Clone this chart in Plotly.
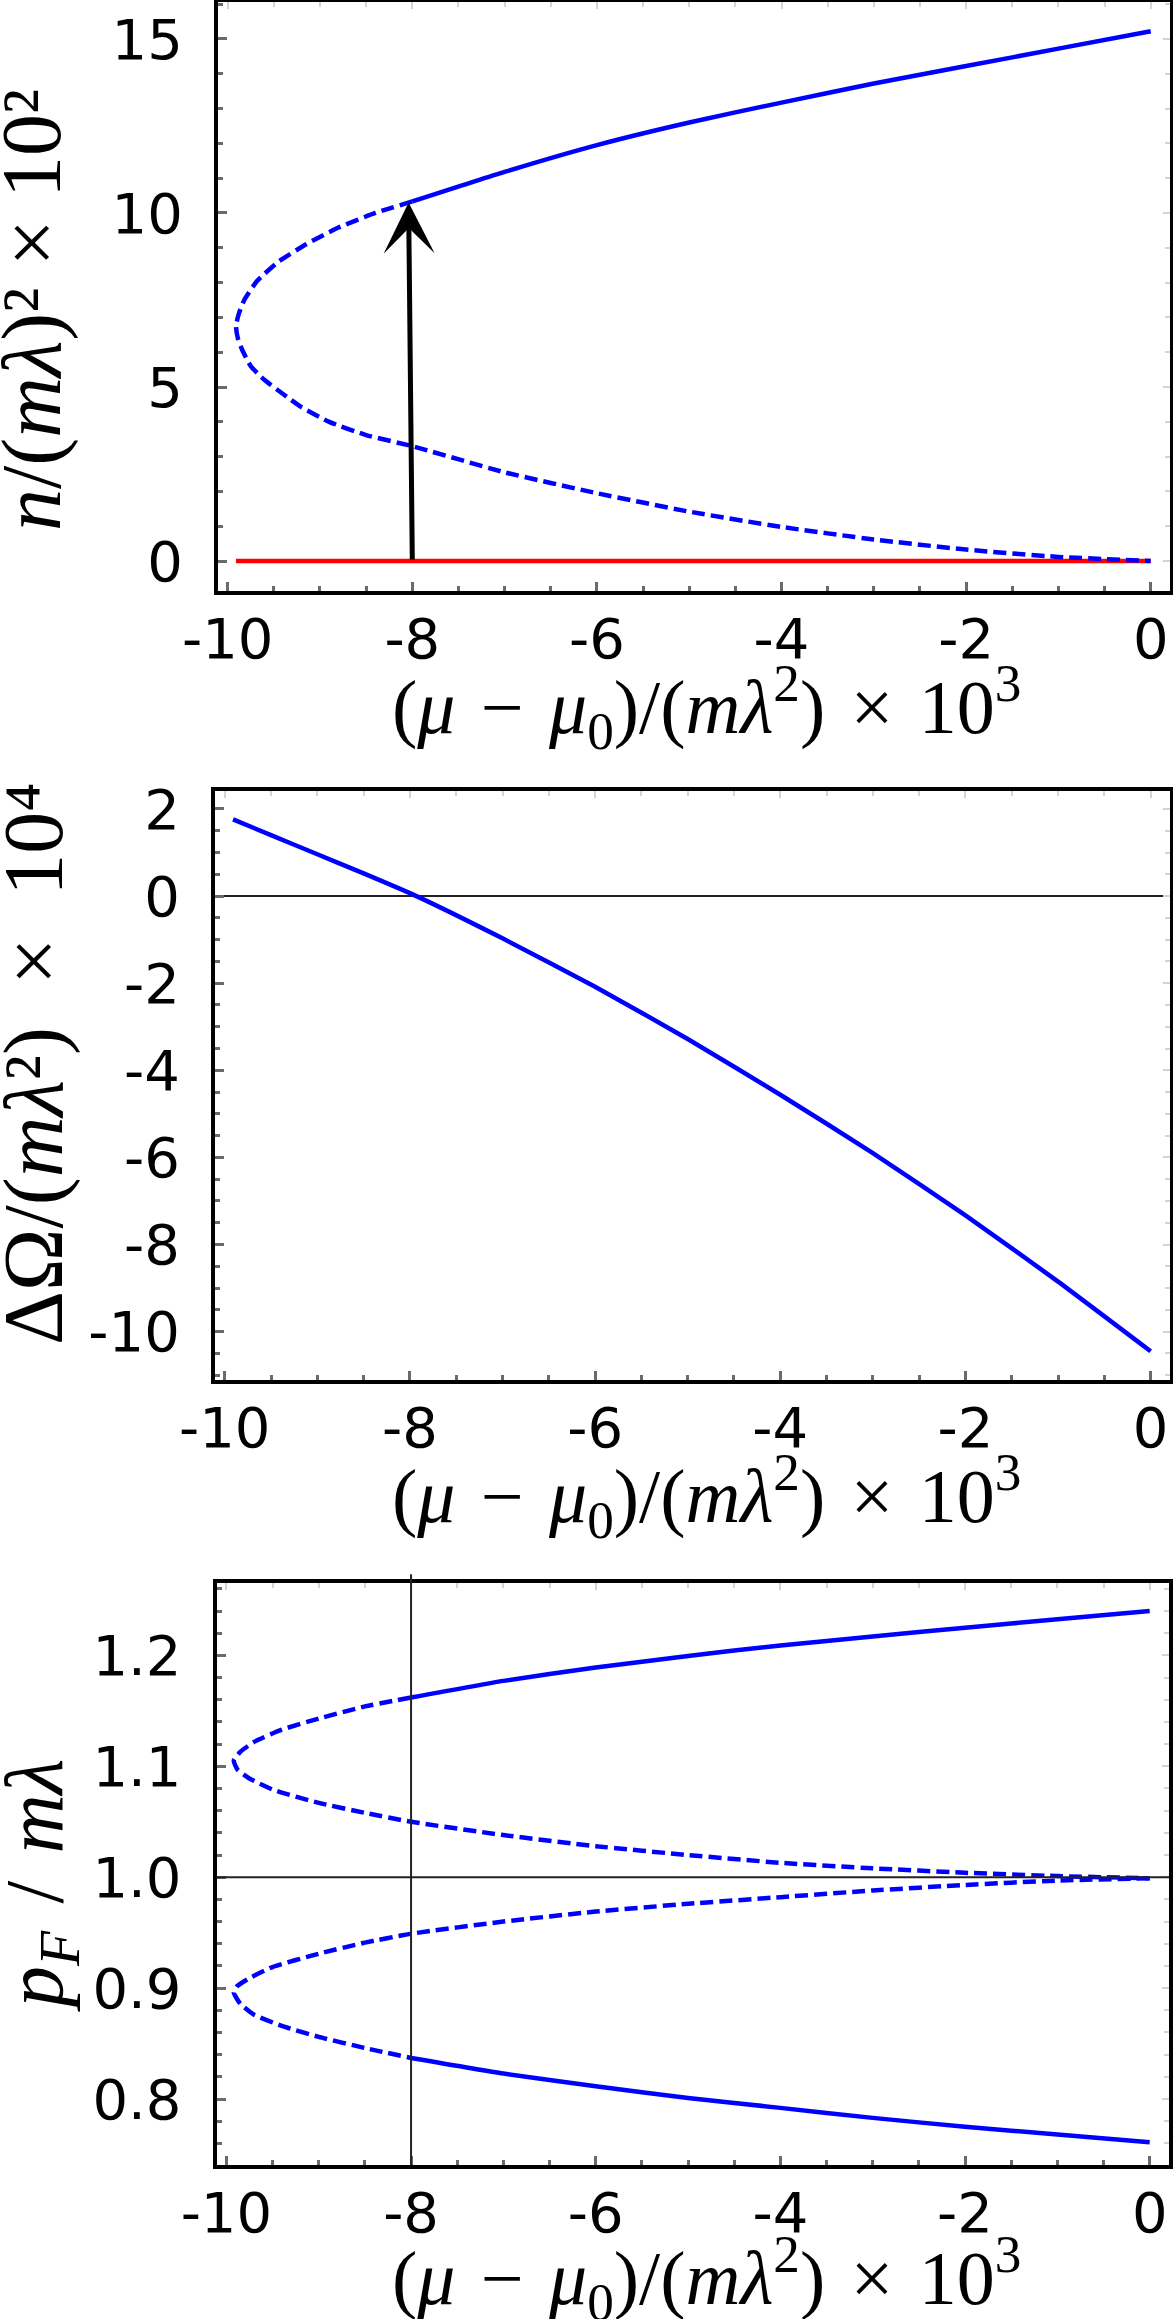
import plotly.graph_objects as go

W, H = 1173, 2319

# ---------------- data ----------------
# Panel 1: n/(m lambda)^2 x 10^2 vs (mu-mu0)/(m lambda^2) x 10^3
n_solid_x = [-8.0, -7.0, -6.0, -5.0, -4.0, -3.0, -2.0, -1.0, 0.0]
n_solid_y = [10.33, 11.18, 11.95, 12.6, 13.17, 13.72, 14.22, 14.72, 15.22]
n_dash_x = [-8.0, -8.4, -8.8, -9.15, -9.45, -9.68, -9.82, -9.88, -9.91, -9.89, -9.84,
            -9.75, -9.6, -9.4, -9.2, -8.9, -8.5, -8.0, -7.0, -6.0, -5.0, -4.0, -3.0,
            -2.0, -1.0, 0.0]
n_dash_y = [10.33, 10.0, 9.58, 9.1, 8.6, 8.05, 7.5, 7.1, 6.75, 6.4, 6.05,
            5.6, 5.2, 4.8, 4.42, 4.0, 3.62, 3.3, 2.55, 1.95, 1.42, 0.98, 0.62,
            0.33, 0.12, 0.0]
n_zero_x = [-9.91, 0.0]
n_zero_y = [0.0, 0.0]
arrow_base = (-8.0, 0.0)
arrow_tip = (-8.04, 10.3)

# Panel 2: Delta Omega/(m lambda^2) x 10^4
om_x = [-9.91, -9.5, -9.0, -8.5, -7.93, -7.0, -6.0, -5.0, -4.0, -3.0, -2.0, -1.0, 0.0]
om_y = [1.76, 1.4, 0.96, 0.52, 0.0, -0.97, -2.08, -3.28, -4.56, -5.9, -7.33, -8.85, -10.45]

# Panel 3: p_F/m lambda
pf_up_solid_x = [-8.0, -7.0, -6.0, -5.0, -4.0, -3.0, -2.0, -1.0, 0.0]
pf_up_solid_y = [1.162, 1.177, 1.189, 1.1995, 1.209, 1.217, 1.225, 1.2325, 1.240]
pf_lo_solid_x = [-8.0, -7.0, -6.0, -5.0, -4.0, -3.0, -2.0, -1.0, 0.0]
pf_lo_solid_y = [0.837, 0.823, 0.8115, 0.801, 0.792, 0.783, 0.775, 0.768, 0.761]
pf_up_dash_x = [-8.0, -8.5, -9.0, -9.4, -9.7, -9.85, -9.92, -9.88, -9.75, -9.5, -9.0,
                -8.5, -8.0, -7.0, -6.0, -5.0, -4.0, -3.0, -2.0, -1.0, 0.0]
pf_up_dash_y = [1.162, 1.154, 1.143, 1.133, 1.122, 1.113, 1.105, 1.097, 1.089, 1.079, 1.067,
                1.058, 1.050, 1.038, 1.028, 1.020, 1.013, 1.008, 1.004, 1.001, 0.999]
pf_lo_dash_x = [0.0, -1.0, -2.0, -3.0, -4.0, -5.0, -6.0, -7.0, -8.0, -8.5, -9.0, -9.5,
                -9.75, -9.88, -9.92, -9.85, -9.7, -9.4, -9.0, -8.5, -8.0]
pf_lo_dash_y = [0.999, 0.997, 0.993, 0.988, 0.982, 0.976, 0.969, 0.960, 0.949, 0.941, 0.931, 0.919,
                0.909, 0.902, 0.896, 0.886, 0.876, 0.866, 0.856, 0.846, 0.837]
pf_ref_y = 1.0
pf_ref_x = -8.0

# ticks
x_tickvals = [-10, -8, -6, -4, -2, 0]
x_ticktext = ["-10", "-8", "-6", "-4", "-2", "0"]
y1_tickvals = [0, 5, 10, 15]
y1_ticktext = ["0", "5", "10", "15"]
y2_tickvals = [-10, -8, -6, -4, -2, 0, 2]
y2_ticktext = ["-10", "-8", "-6", "-4", "-2", "0", "2"]
y3_tickvals = [0.8, 0.9, 1.0, 1.1, 1.2]
y3_ticktext = ["0.8", "0.9", "1.0", "1.1", "1.2"]

SP = "\u2004"
EN = "\u2002"
xtitle = ("(<i>μ</i>" + SP + "−" + SP + "<i>μ</i><sub>0</sub>)/(<i>mλ</i><sup>2</sup>)"
          + SP + "×" + SP + "10<sup>3</sup>")
ytitle1 = "<i>n</i>/(<i>mλ</i>)² × 10²"
ytitle2 = "ΔΩ/(<i>mλ</i>²)" + EN + "×" + EN + "10⁴"
ytitle3 = "<i>p</i><sub><i>F</i></sub>" + SP + "/" + SP + "<i>mλ</i>"

# ---------------- geometry (pixels) ----------------
panels = [
    dict(l=218, r=1170, t=2, b=591, yr=[-0.86, 16.06]),
    dict(l=215, r=1170, t=790.7, b=1380, yr=[-11.11, 2.42]),
    dict(l=216.7, r=1169, t=1583.3, b=2165, yr=[0.7405, 1.265]),
]
XR = [-10.105, 0.209]

BLUE = "#0000ff"
TICKC = "#6a6a6a"
FAINT = "#d4d4d4"
TICKFONT = dict(family="DejaVu Sans", size=56, color="black")
TITLEFONT = "Liberation Serif"

fig = go.Figure()

def line(x, y, ax, dash=None, color=BLUE, width=4.5):
    fig.add_trace(go.Scatter(
        x=x, y=y, mode="lines", xaxis="x" + ax, yaxis="y" + ax,
        line=dict(color=color, width=width, dash=dash, shape="spline", smoothing=0.5),
        hoverinfo="skip", showlegend=False))

DASH = "13px,6px"
# panel 1
line(n_zero_x, n_zero_y, "", color="#ff0000")
line(n_dash_x, n_dash_y, "", dash=DASH)
line(n_solid_x, n_solid_y, "")
# panel 2
line(om_x, om_y, "2")
# panel 3
line(pf_up_dash_x, pf_up_dash_y, "3", dash=DASH)
line(pf_lo_dash_x, pf_lo_dash_y, "3", dash=DASH)
line(pf_up_solid_x, pf_up_solid_y, "3")
line(pf_lo_solid_x, pf_lo_solid_y, "3")

# dummy traces for overlay (faint mirrored tick) axes
for k in range(3):
    fig.add_trace(go.Scatter(x=[None], y=[None], xaxis="x%d" % (k + 4), yaxis="y%d" % (k + 4),
                             showlegend=False, hoverinfo="skip"))

layout = dict(width=W, height=H, margin=dict(l=0, r=0, t=0, b=0),
              paper_bgcolor="white", plot_bgcolor="white", showlegend=False)

ytv = [(y1_tickvals, y1_ticktext, 1.0), (y2_tickvals, y2_ticktext, 0.5), (y3_tickvals, y3_ticktext, 0.02)]

for i, p in enumerate(panels):
    sfx = "" if i == 0 else str(i + 1)
    xd = [p["l"] / W, p["r"] / W]
    yd = [1 - p["b"] / H, 1 - p["t"] / H]
    tv, tt, mdt = ytv[i]
    layout["xaxis" + sfx] = dict(
        domain=xd, range=XR, anchor="y" + sfx, showgrid=False, zeroline=False,
        showline=True, linewidth=4, linecolor="black", mirror=True,
        ticks="inside", ticklen=9, tickwidth=3, tickcolor=TICKC,
        tickvals=x_tickvals, ticktext=x_ticktext, tickfont=TICKFONT,
        ticklabelstandoff=-4,
        minor=dict(ticks="inside", ticklen=5, tickwidth=3, tickcolor=TICKC,
                   tickmode="linear", tick0=0, dtick=0.5, showgrid=False),
        automargin=False, fixedrange=True)
    layout["yaxis" + sfx] = dict(
        domain=yd, range=p["yr"], anchor="x" + sfx, showgrid=False,
        zeroline=(i == 1), zerolinecolor="#222222", zerolinewidth=2,
        showline=True, linewidth=4, linecolor="black", mirror=True,
        ticks="inside", ticklen=9, tickwidth=3, tickcolor=TICKC,
        tickvals=tv, ticktext=tt, tickfont=TICKFONT,
        ticklabelstandoff=20,
        minor=dict(ticks="inside", ticklen=5, tickwidth=3, tickcolor=TICKC,
                   tickmode="linear", tick0=0, dtick=mdt, showgrid=False),
        automargin=False, fixedrange=True)
    # faint mirrored ticks (top / right)
    ox, oy = "x%d" % (i + 4), "y%d" % (i + 4)
    layout["xaxis%d" % (i + 4)] = dict(
        overlaying="x" + sfx, side="top", anchor=oy, range=XR, domain=xd,
        showgrid=False, zeroline=False, showline=False, showticklabels=False,
        ticks="inside", ticklen=7, tickwidth=2, tickcolor=FAINT, tickvals=x_tickvals,
        minor=dict(ticks="inside", ticklen=5, tickwidth=2, tickcolor=FAINT,
                   tickmode="linear", tick0=0, dtick=0.5),
        fixedrange=True)
    layout["yaxis%d" % (i + 4)] = dict(
        overlaying="y" + sfx, side="right", anchor=ox, range=p["yr"], domain=yd,
        showgrid=False, zeroline=False, showline=False, showticklabels=False,
        ticks="inside", ticklen=7, tickwidth=2, tickcolor=FAINT, tickvals=tv,
        minor=dict(ticks="inside", ticklen=5, tickwidth=2, tickcolor=FAINT,
                   tickmode="linear", tick0=0, dtick=mdt),
        fixedrange=True)

fig.update_layout(**layout)

# reference lines in panel 3
fig.add_shape(type="line", xref="x3 domain", yref="y3", x0=0, x1=1, y0=pf_ref_y, y1=pf_ref_y,
              line=dict(color="#222222", width=2))
p3 = panels[2]
fig.add_shape(type="line", xref="x3", yref="paper", x0=pf_ref_x, x1=pf_ref_x,
              y0=1 - p3["b"] / H, y1=1 - (p3["t"] - 9) / H,
              line=dict(color="#222222", width=2))

# arrow in panel 1
fig.add_annotation(x=arrow_tip[0], y=arrow_tip[1], ax=arrow_base[0], ay=arrow_base[1],
                   xref="x", yref="y", axref="x", ayref="y", text="", showarrow=True,
                   arrowhead=3, arrowsize=1.7, arrowwidth=5, arrowcolor="black", standoff=0)

# axis titles
xt_offsets = [116, 116, 113]
for k, p in enumerate(panels):
    fig.add_annotation(text=xtitle, xref="paper", yref="paper",
                       x=706 / W, y=1 - (p["b"] + xt_offsets[k]) / H, xanchor="center",
                       yanchor="middle", showarrow=False,
                       font=dict(family=TITLEFONT, size=76, color="black"))

ytitles = [(ytitle1, 32, 310, 84), (ytitle2, 34, 1064, 84), (ytitle3, 40, 1886, 82)]
for txt, xc, yc, sz in ytitles:
    fig.add_annotation(text=txt, xref="paper", yref="paper", x=xc / W, y=1 - yc / H,
                       xanchor="center", yanchor="middle", textangle=-90, showarrow=False,
                       font=dict(family=TITLEFONT, size=sz, color="black"))

fig.write_html("out.html")
